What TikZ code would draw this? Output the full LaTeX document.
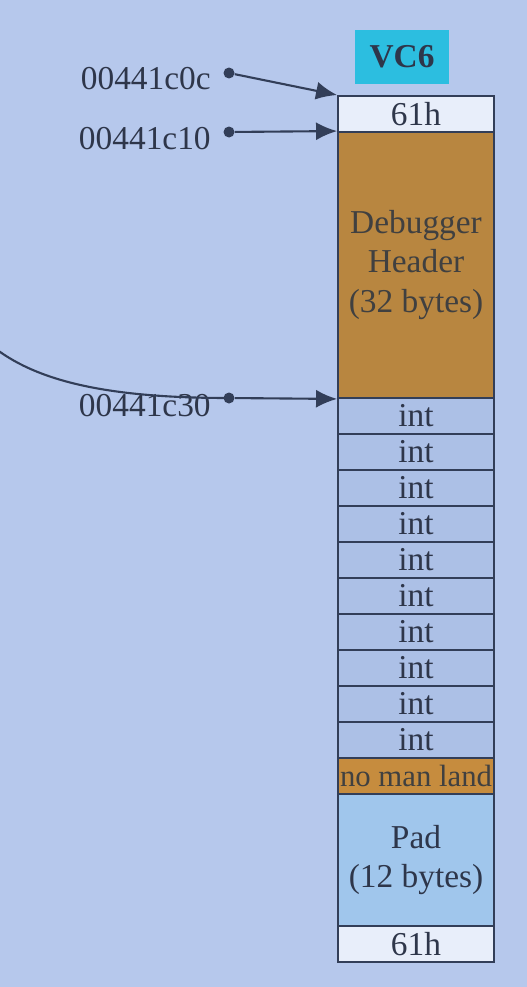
\documentclass[tikz,border=0pt]{standalone}
\usepackage{fontspec}
\setmainfont{Liberation Serif}
\usetikzlibrary{arrows.meta}
\definecolor{bgblue}{RGB}{182,200,236}
\definecolor{edgeblue}{RGB}{50,62,88}
\definecolor{inkgray}{RGB}{46,54,74}
\definecolor{paleblue}{RGB}{232,238,250}
\definecolor{hdrorange}{RGB}{184,134,64}
\definecolor{nmlorange}{RGB}{198,140,62}
\definecolor{intblue}{RGB}{172,192,230}
\definecolor{padblue}{RGB}{160,198,236}
\definecolor{vccyan}{RGB}{44,190,224}
\tikzset{
	cell/.style={draw=edgeblue,line width=1.1pt,minimum width=3.12cm,minimum height=0.72cm,inner sep=0pt,text=inkgray,align=center,font=\fontsize{19}{22.5}\selectfont},
	addr/.style={inner sep=0pt,text=inkgray,font=\fontsize{19}{22.5}\selectfont},
	pin/.style={circle,fill=edgeblue,inner sep=0pt,minimum size=0.22cm},
	ptr/.style={draw=edgeblue,line width=1.2pt,-{Latex[length=0.42cm,width=0.36cm]}}
}
\begin{document}
\begin{tikzpicture}[x=0.02cm,y=-0.02cm]
				\useasboundingbox (0,0) rectangle (527,987);
				\fill[bgblue] (0,0) rectangle (527,987);
				\node[fill=vccyan,minimum width=1.9cm,minimum height=1.08cm,inner sep=0pt,text=inkgray,font=\fontsize{19}{22.5}\selectfont\bfseries] (vc) at (402,57) {VC6};
				\node[cell,fill=paleblue] (top) at (416,114) {61h};
				\node[cell,fill=hdrorange,minimum height=5.32cm,text=black!75] (hdr) at (416,265) {Debugger\\Header\\(32 bytes)};
				\foreach \i in {1,...,10}
					\node[cell,fill=intblue] (i\i) at (416,{380+36*\i}) {int};
				\node[cell,fill=nmlorange,text=black!75,font=\fontsize{17.5}{21}\selectfont] (nml) at (416,776) {no man land};
				\node[cell,fill=padblue,minimum height=2.64cm] (pad) at (416,860) {Pad\\(12 bytes)};
				\node[cell,fill=paleblue] (tail) at (416,944) {61h};
				\node[addr,anchor=east] (a1) at (211,79) {00441c0c};
				\node[addr,anchor=east] (a2) at (211,139) {00441c10};
				\node[addr,anchor=east] (a3) at (211,406) {00441c30};
				\node[pin] (d1) at (229,73) {};
				\node[pin] (d2) at (229,132) {};
				\node[pin] (d3) at (229,398) {};
				\coordinate (from) at (-4,349);
				\draw[ptr] (d1) -- (top.north west);
				\draw[ptr] (d2) -- (hdr.north west);
				\draw[ptr] (d3) -- (hdr.south west);
				\draw[edgeblue,line width=1.2pt] (from) .. controls (40,382) and (110,398) .. (d3.center);
			\end{tikzpicture}
\end{document}
